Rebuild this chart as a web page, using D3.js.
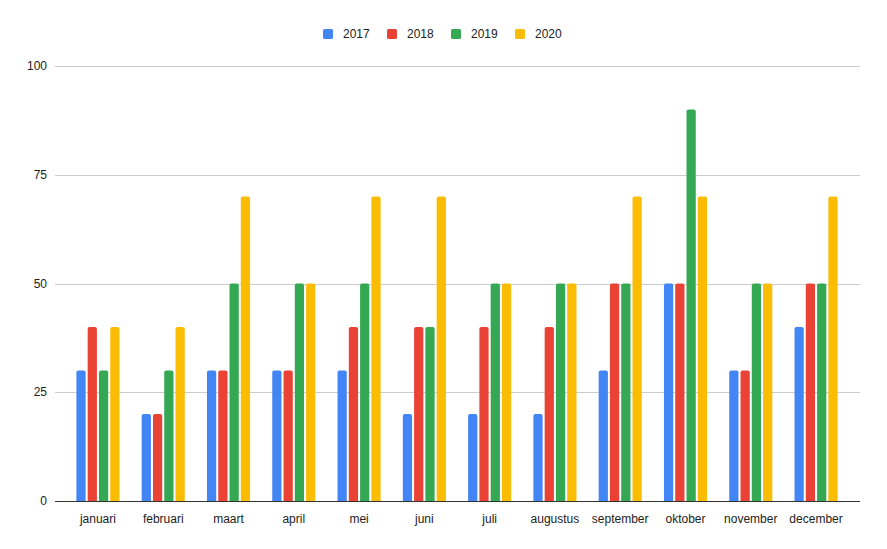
<!DOCTYPE html>
<html><head><meta charset="utf-8">
<script src="https://cdn.jsdelivr.net/npm/d3@7"></script>
<style>body{margin:0;background:#fff}svg{display:block;font-family:Arial,"Liberation Sans",sans-serif}</style>
</head><body><svg id="c" width="887" height="549"></svg>
<script>
const months = ["januari","februari","maart","april","mei","juni","juli","augustus","september","oktober","november","december"];
const seriesNames = ["2017","2018","2019","2020"];
const s2017 = [30,20,30,30,30,20,20,20,30,50,30,40];
const s2018 = [40,20,30,30,40,40,40,40,50,50,30,50];
const s2019 = [30,30,50,50,50,40,50,50,50,90,50,50];
const s2020 = [40,40,70,50,70,70,50,50,70,70,50,70];
const yTicks = [0,25,50,75,100];
const colors = ["#4285F4","#EA4335","#34A853","#FBBC04"];
const allSeries = [s2017,s2018,s2019,s2020];

(function(){
const svg = d3.select("#c");
const pl = 55, pr = 860, pt = 66, pb = 501;
const y = d3.scaleLinear().domain([0,100]).range([pb, pt]);
const x = d3.scaleBand().domain(months).range([65.3, 848.7]).paddingInner(0.34).paddingOuter(0.17);
const xs = d3.scaleBand().domain(seriesNames).range([0, x.bandwidth()]).paddingInner(0.18);

svg.append("g").selectAll("line").data(yTicks.filter(t=>t>0)).join("line")
  .attr("x1", pl).attr("x2", pr)
  .attr("y1", d=>Math.round(y(d))+0.5).attr("y2", d=>Math.round(y(d))+0.5)
  .attr("stroke", "#cccccc").attr("stroke-width", 1);

svg.append("g").selectAll("text").data(yTicks).join("text")
  .attr("x", 47).attr("y", d=>y(d)).attr("dy","0.35em")
  .attr("text-anchor","end").attr("font-size", 12).attr("fill","#222")
  .text(d=>d);

function barPath(x0, w, y0, y1, r){
  r = Math.min(r, w/2, y0-y1);
  return `M${x0},${y0}V${y1+r}Q${x0},${y1} ${x0+r},${y1}H${x0+w-r}Q${x0+w},${y1} ${x0+w},${y1+r}V${y0}Z`;
}
const g = svg.append("g");
seriesNames.forEach((s, si) => {
  g.append("g").selectAll("path").data(allSeries[si]).join("path")
    .attr("fill", colors[si])
    .attr("d", (d,i) => barPath(x(months[i]) + xs(s), xs.bandwidth(), y(0), y(d), 2));
});

svg.append("line").attr("x1", pl).attr("x2", pr).attr("y1", y(0)+0.5).attr("y2", y(0)+0.5)
  .attr("stroke", "#333").attr("stroke-width", 1);

svg.append("g").selectAll("text").data(months).join("text")
  .attr("x", d=>x(d)+x.bandwidth()/2).attr("y", 519).attr("dy","0.35em")
  .attr("text-anchor","middle").attr("font-size", 12).attr("fill","#222")
  .text(d=>d);

const legX = [323, 387, 451, 515];
const leg = svg.append("g");
seriesNames.forEach((s, i) => {
  leg.append("rect").attr("x", legX[i]).attr("y", 29).attr("width", 10).attr("height", 10)
    .attr("rx", 1.5).attr("fill", colors[i]);
  leg.append("text").attr("x", legX[i]+20).attr("y", 34).attr("dy","0.35em")
    .attr("font-size", 12).attr("fill","#222").text(s);
});
})();
</script></body></html>
